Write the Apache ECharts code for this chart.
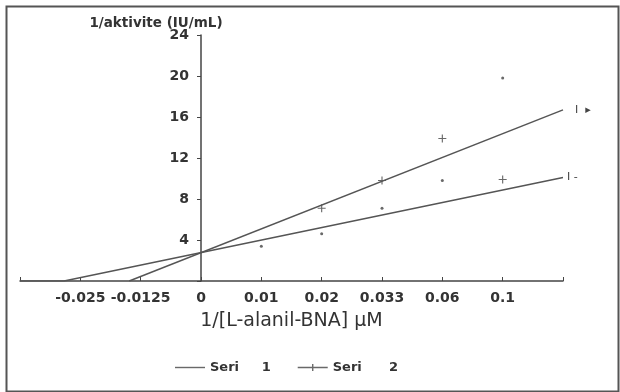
<!DOCTYPE html>
<html>
<head>
<meta charset="utf-8">
<script src="https://cdn.jsdelivr.net/npm/echarts@6/dist/echarts.min.js"></script>
<style>
  html, body { margin: 0; padding: 0; background: #fff; }
  #chart { width: 620px; height: 392px; }
</style>
</head>
<body>
<div id="chart"></div>
<script>
// x categories (equal spacing), placed at positions relative to 0
var xLabels = ['-0.025', '-0.0125', '0', '0.01', '0.02', '0.033', '0.06', '0.1'];
var xPos = [-2, -1, 0, 1, 2, 3, 4, 5];
// measured points
var seri1 = [null, null, null, 3.4, 4.6, 7.1, 9.8, 19.8];
var seri2 = [null, null, null, null, 7.1, 9.8, 13.9, 9.9];
// trend lines (I+ / I-)
var trendPlusX = [-1.19, 6];
var trendPlusY = [0, 16.7];
var trendMinusX = [-3, -2.27, 6];
var trendMinusY = [0, 0, 10.1];
// y ticks
var yMin = 0, yMax = 24, yStep = 4;

var ink = '#444';
var txt = '#333';
var plusPath = 'path://M3,0h1v3h3v1h-3v3h-1v-3h-3v-1h3z';

function pairs(xs, ys) {
    var out = [];
    for (var i = 0; i < xs.length; i++) {
        if (ys[i] != null) out.push([xs[i], ys[i]]);
    }
    return out;
}

var myChart = echarts.init(document.getElementById('chart'));
var option = {
    animation: false,
    backgroundColor: '#fff',
    grid: { left: 20, right: 57, top: 35, bottom: 111, outerBoundsMode: 'none' },
    legend: {
        left: 170,
        top: 356,
        itemWidth: 30,
        itemHeight: 8,
        itemGap: 27,
        data: [
            { name: 'Seri 1', icon: 'path://M0,0M30,8M0,3.3h30v1.4h-30z' },
            { name: 'Seri 2', icon: 'path://M0,0M30,8M0,3.3h30v1.4h-30zM14.3,0.5h1.4v7h-1.4z' }
        ],
        formatter: function (name) {
            return name === 'Seri 1' ? 'Seri     1' : 'Seri      2';
        },
        textStyle: { fontFamily: 'DejaVu Sans', fontWeight: 'bold', fontSize: 13, color: txt }
    },
    graphic: [{
        type: 'rect',
        left: 4,
        top: 4,
        shape: { width: 612, height: 385 },
        style: { fill: 'none', stroke: '#555', lineWidth: 2 }
    }],
    xAxis: {
        type: 'value',
        min: -3,
        max: 6,
        interval: 1,
        splitLine: { show: false },
        axisLine: { onZero: true, lineStyle: { color: ink, width: 1.5 } },
        axisTick: { show: true, inside: true, length: 4, lineStyle: { color: ink } },
        axisLabel: {
            margin: 10,
            fontFamily: 'DejaVu Sans',
            fontWeight: 'bold',
            fontSize: 14,
            color: txt,
            formatter: function (v) {
                var i = xPos.indexOf(Math.round(v));
                return i < 0 ? '' : xLabels[i];
            }
        },
        name: '1/[L-alanil-BNA] μM',
        nameLocation: 'middle',
        nameGap: 31,
        nameTextStyle: { fontFamily: 'DejaVu Sans', fontSize: 19, color: txt, verticalAlign: 'top' }
    },
    yAxis: {
        type: 'value',
        min: yMin,
        max: yMax,
        interval: yStep,
        // sits at x = 0 (three category steps in from the left edge)
        offset: -181,
        splitLine: { show: false },
        axisLine: { show: true, onZero: false, lineStyle: { color: ink, width: 1.5 } },
        axisTick: { show: true, length: 4, lineStyle: { color: ink } },
        axisLabel: {
            margin: 12,
            fontFamily: 'DejaVu Sans',
            fontWeight: 'bold',
            fontSize: 14,
            color: txt,
            formatter: function (v) { return v === 0 ? '' : v; }
        },
        name: '1/aktivite (IU/mL)',
        nameLocation: 'end',
        nameGap: 12,
        nameMoveOverlap: false,
        nameTextStyle: {
            fontFamily: 'DejaVu Sans', fontWeight: 'bold', fontSize: 13.5, color: txt,
            align: 'center', verticalAlign: 'middle', padding: [0, 90, 0, 0]
        }
    },
    series: [
        {
            name: 'I +',
            type: 'line',
            data: pairs(trendPlusX, trendPlusY),
            symbol: 'none',
            lineStyle: { color: '#555', width: 1.5 },
            endLabel: { show: true, formatter: 'I  ▸', distance: 12, fontFamily: 'DejaVu Sans', fontSize: 11, color: ink },
            silent: true
        },
        {
            name: 'I -',
            type: 'line',
            data: pairs(trendMinusX, trendMinusY),
            symbol: 'none',
            lineStyle: { color: '#555', width: 1.5 },
            endLabel: { show: true, formatter: 'I -', distance: 4, fontFamily: 'DejaVu Sans', fontSize: 11, color: ink },
            silent: true
        },
        {
            name: 'Seri 1',
            type: 'scatter',
            data: pairs(xPos, seri1),
            symbol: 'circle',
            symbolSize: 3,
            itemStyle: { color: ink }
        },
        {
            name: 'Seri 2',
            type: 'scatter',
            data: pairs(xPos, seri2),
            symbol: plusPath,
            symbolSize: 8,
            itemStyle: { color: ink }
        }
    ]
};
myChart.setOption(option);
window.onresize = myChart.resize;
</script>
</body>
</html>
